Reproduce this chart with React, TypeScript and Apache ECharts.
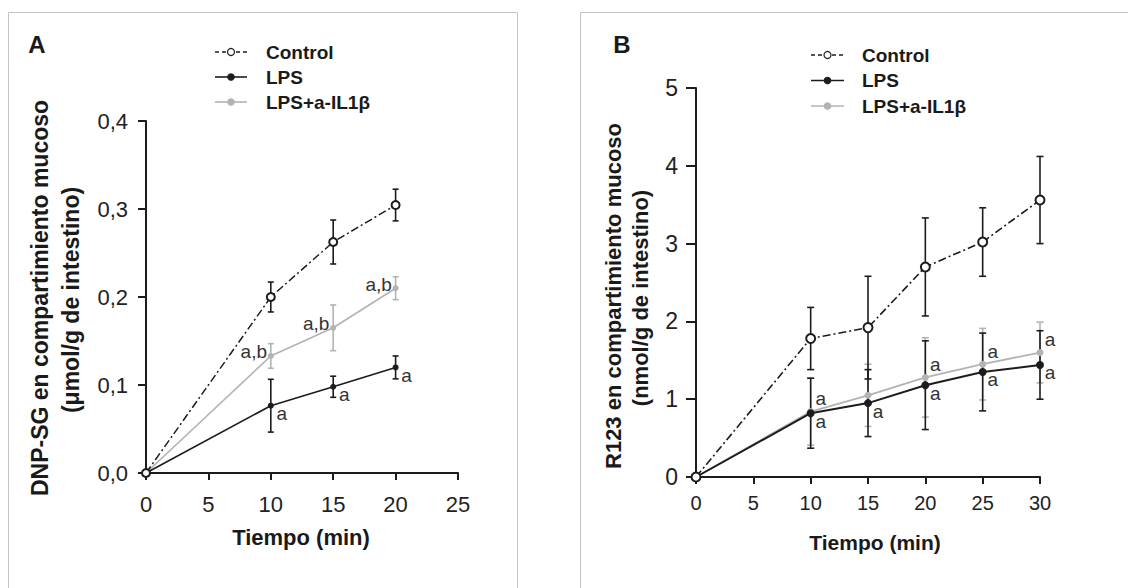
import React, { useEffect, useRef } from "react";
import * as echarts from "echarts";

// ---- Panel A data (DNP-SG, µmol/g) ----
const timeA = [0, 10, 15, 20];
const controlA = [0, 0.2, 0.2625, 0.3045];
const controlAErr = [0, 0.017, 0.025, 0.018];
const lpsA = [0, 0.0765, 0.098, 0.12];
const lpsAErr = [0, 0.03, 0.012, 0.013];
const il1A = [0, 0.133, 0.165, 0.21];
const il1AErr = [0, 0.014, 0.026, 0.013];
const lpsAAnn = ["", "a", "a", "a"];
const il1AAnn = ["", "a,b", "a,b", "a,b"];
const xTicksA = [0, 5, 10, 15, 20, 25];
const yTicksA = [0, 0.1, 0.2, 0.3, 0.4];

// ---- Panel B data (R123, nmol/g) ----
const timeB = [0, 10, 15, 20, 25, 30];
const controlB = [0, 1.78, 1.92, 2.7, 3.02, 3.56];
const controlBErr = [0, 0.4, 0.66, 0.63, 0.44, 0.56];
const lpsB = [0, 0.82, 0.95, 1.18, 1.35, 1.44];
const lpsBErr = [0, 0.45, 0.43, 0.57, 0.5, 0.44];
const il1B = [0, 0.84, 1.05, 1.28, 1.45, 1.6];
const il1BErr = [0, 0.43, 0.4, 0.51, 0.46, 0.39];
const lpsBAnn = ["", "a", "a", "a", "a", "a"];
const il1BAnn = ["", "a", "", "a", "a", "a"];
const xTicksB = [0, 5, 10, 15, 20, 25, 30];
const yTicksB = [0, 1, 2, 3, 4, 5];

const seriesNames = ["Control", "LPS", "LPS+a-IL1β"];

const FONT = "'Liberation Sans', Arial, Helvetica, sans-serif";
const BLACK = "#1c1c1c";
const GRAY = "#b3b3b3";

function pts(xs: number[], ys: number[]) {
  return xs.map((x, i) => [x, ys[i]]);
}
function errPts(xs: number[], ys: number[], es: number[]) {
  return xs.map((x, i) => [x, ys[i], es[i]]).filter((d) => d[2] > 0);
}

function errorSeries(idx: number, data: number[][], color: string, hw: number) {
  return {
    type: "custom",
    xAxisIndex: idx,
    yAxisIndex: idx,
    z: 1,
    silent: true,
    encode: { x: 0, y: 1 },
    data,
    renderItem: (params: any, api: any) => {
      const x = api.value(0);
      const y = api.value(1);
      const e = api.value(2);
      const p1 = api.coord([x, y + e]);
      const p2 = api.coord([x, y - e]);
      const style = { stroke: color, lineWidth: 1.6 };
      return {
        type: "group",
        children: [
          { type: "line", shape: { x1: p1[0], y1: p1[1], x2: p2[0], y2: p2[1] }, style },
          { type: "line", shape: { x1: p1[0] - hw, y1: p1[1], x2: p1[0] + hw, y2: p1[1] }, style },
          { type: "line", shape: { x1: p2[0] - hw, y1: p2[1], x2: p2[0] + hw, y2: p2[1] }, style },
        ],
      };
    },
  };
}

function lineSeries(
  idx: number,
  name: string,
  data: number[][],
  opts: {
    color: string;
    dashed?: boolean;
    empty?: boolean;
    size: number;
    width: number;
    ann?: string[];
    offset?: number[];
    z: number;
  }
) {
  return {
    type: "line",
    name,
    xAxisIndex: idx,
    yAxisIndex: idx,
    z: opts.z,
    data,
    symbol: opts.empty ? "emptyCircle" : "circle",
    symbolSize: opts.size,
    showAllSymbol: true,
    lineStyle: {
      color: opts.color,
      width: opts.width,
      type: opts.dashed ? [8, 3, 2, 3] : "solid",
    },
    itemStyle: {
      color: opts.color,
      borderColor: opts.color,
      borderWidth: opts.empty ? 1.4 : 0,
    },
    label: opts.ann
      ? {
          show: true,
          position: "inside",
          offset: opts.offset,
          formatter: (p: any) => opts.ann![p.dataIndex] || "",
          fontSize: 19,
          fontFamily: FONT,
          color: "#333",
        }
      : { show: false },
    emphasis: { disabled: true },
  };
}

function legendGraphic(x0: number, y0: number, gap: number, lineLen: number, textX: number) {
  const items: any[] = [];
  const styles = [
    { color: BLACK, dash: [4, 3], empty: true, r: 3.5 },
    { color: BLACK, dash: null, empty: false, r: 3.2 },
    { color: GRAY, dash: null, empty: false, r: 3.2 },
  ];
  seriesNames.forEach((name, i) => {
    const y = y0 + i * gap;
    const s = styles[i];
    items.push({
      type: "line",
      shape: { x1: x0, y1: y, x2: x0 + lineLen, y2: y },
      style: { stroke: s.color, lineWidth: 1.6, lineDash: s.dash || undefined },
    });
    items.push({
      type: "circle",
      shape: { cx: x0 + lineLen / 2, cy: y, r: s.r },
      style: { fill: s.empty ? "#fff" : s.color, stroke: s.color, lineWidth: 1.2 },
    });
    items.push({
      type: "text",
      x: textX,
      y,
      style: {
        text: name,
        font: `bold 19px ${FONT}`,
        fill: "#1a1a1a",
        align: "left",
        verticalAlign: "middle",
      },
    });
  });
  return items;
}

function axisCommon(fontSize: number) {
  return {
    axisLine: { show: true, onZero: false, lineStyle: { color: BLACK, width: 2 } },
    axisTick: { show: true, inside: false, lineStyle: { color: BLACK, width: 2 } },
    splitLine: { show: false },
    axisLabel: { fontSize, fontFamily: FONT, color: "#222" },
  };
}

function titleText(x: number, y: number, text: string, size: number, rotate = false) {
  return {
    type: "text",
    x,
    y,
    rotation: rotate ? Math.PI / 2 : 0,
    style: {
      text,
      font: `bold ${size}px ${FONT}`,
      fill: "#1a1a1a",
      align: "center",
      verticalAlign: "middle",
    },
  };
}

export default function App() {
  const ref = useRef<HTMLDivElement>(null);

  useEffect(() => {
    if (!ref.current) return;
    const chart = echarts.init(ref.current, undefined, { renderer: "svg" });

    const cA = axisCommon(22);
    const cB = axisCommon(22);

    const option: any = {
      animation: false,
      backgroundColor: "#fff",
      grid: [
        { left: 146, top: 121, width: 312, height: 352 },
        { left: 696, top: 88, width: 344, height: 389 },
      ],
      xAxis: [
        {
          gridIndex: 0,
          type: "value",
          min: xTicksA[0],
          max: xTicksA[xTicksA.length - 1],
          interval: 5,
          ...cA,
          axisTick: { ...cA.axisTick, length: 7 },
          axisLabel: { ...cA.axisLabel, margin: 20 },
        },
        {
          gridIndex: 1,
          type: "value",
          min: xTicksB[0],
          max: xTicksB[xTicksB.length - 1],
          interval: 5,
          ...cB,
          axisTick: { ...cB.axisTick, length: 7 },
          axisLabel: { ...cB.axisLabel, margin: 16, fontSize: 20 },
        },
      ],
      yAxis: [
        {
          gridIndex: 0,
          type: "value",
          min: yTicksA[0],
          max: yTicksA[yTicksA.length - 1],
          interval: 0.1,
          ...cA,
          axisTick: { ...cA.axisTick, length: 8 },
          axisLabel: {
            ...cA.axisLabel,
            margin: 18,
            formatter: (v: number) => v.toFixed(1).replace(".", ","),
          },
        },
        {
          gridIndex: 1,
          type: "value",
          min: yTicksB[0],
          max: yTicksB[yTicksB.length - 1],
          interval: 1,
          ...cB,
          axisTick: { ...cB.axisTick, length: 10 },
          axisLabel: { ...cB.axisLabel, margin: 18, fontSize: 23 },
        },
      ],
      series: [
        // Panel A
        errorSeries(0, errPts(timeA, il1A, il1AErr), GRAY, 3),
        errorSeries(0, errPts(timeA, lpsA, lpsAErr), BLACK, 3),
        errorSeries(0, errPts(timeA, controlA, controlAErr), BLACK, 3),
        lineSeries(0, seriesNames[2], pts(timeA, il1A), {
          color: GRAY, size: 6, width: 1.6, ann: il1AAnn, offset: [-17, -4], z: 3,
        }),
        lineSeries(0, seriesNames[1], pts(timeA, lpsA), {
          color: BLACK, size: 6, width: 1.6, ann: lpsAAnn, offset: [11, 8], z: 4,
        }),
        lineSeries(0, seriesNames[0], pts(timeA, controlA), {
          color: BLACK, size: 8, width: 1.5, dashed: true, empty: true, z: 5,
        }),
        // Panel B
        errorSeries(1, errPts(timeB, il1B, il1BErr), GRAY, 3.5),
        errorSeries(1, errPts(timeB, lpsB, lpsBErr), BLACK, 3.5),
        errorSeries(1, errPts(timeB, controlB, controlBErr), BLACK, 3.5),
        lineSeries(1, seriesNames[2], pts(timeB, il1B), {
          color: GRAY, size: 7, width: 1.8, ann: il1BAnn, offset: [10, -13], z: 3,
        }),
        lineSeries(1, seriesNames[1], pts(timeB, lpsB), {
          color: BLACK, size: 8, width: 2, ann: lpsBAnn, offset: [10, 8], z: 4,
        }),
        lineSeries(1, seriesNames[0], pts(timeB, controlB), {
          color: BLACK, size: 9, width: 1.6, dashed: true, empty: true, z: 5,
        }),
      ],
      graphic: [
        {
          type: "rect",
          shape: { x: 8.5, y: 12.5, width: 509, height: 600 },
          style: { fill: "none", stroke: "#c4c4c4", lineWidth: 1 },
          z: -10,
        },
        {
          type: "rect",
          shape: { x: 580.5, y: 12.5, width: 600, height: 600 },
          style: { fill: "none", stroke: "#c4c4c4", lineWidth: 1 },
          z: -10,
        },
        titleText(37, 44, "A", 24),
        titleText(622, 44, "B", 24),
        titleText(301, 537, "Tiempo (min)", 22),
        titleText(875, 542, "Tiempo (min)", 21),
        titleText(40, 298, "DNP-SG en compartimiento mucoso", 23, true),
        titleText(71, 300, "(μmol/g de intestino)", 23, true),
        titleText(613, 296, "R123 en compartimiento mucoso", 22, true),
        titleText(640, 298, "(nmol/g de intestino)", 22, true),
        ...legendGraphic(215, 52, 25, 32, 266),
        ...legendGraphic(811, 55, 25.5, 33, 862),
      ],
    };

    chart.setOption(option);
    return () => chart.dispose();
  }, []);

  return (
    <div
      ref={ref}
      style={{ position: "fixed", left: 0, top: 0, width: 1128, height: 588, background: "#fff" }}
    />
  );
}
